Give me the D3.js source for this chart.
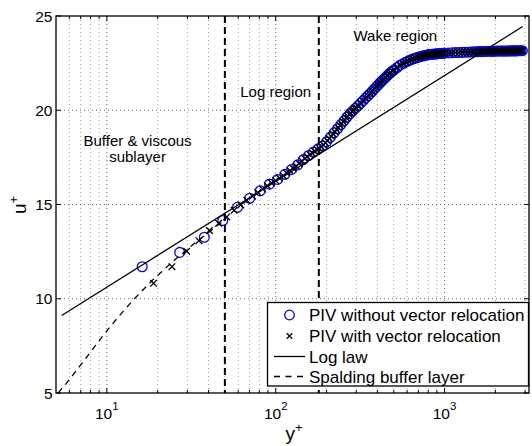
<!DOCTYPE html>
<html><head><meta charset="utf-8">
<script src="https://cdn.jsdelivr.net/npm/d3@7"></script>
<style>
body{margin:0;background:#fff}
svg{display:block}
text{font-family:"Liberation Sans",Arial,Helvetica,sans-serif;fill:#000}
</style>
</head><body>
<svg id="chart" width="532" height="446"></svg>
<script>
// ---------------- data ----------------
const xDomain = [5, 3162];
const yDomain = [5, 25];
const xMajorTicks = [10, 100, 1000];
const xMajorExponents = ["1", "2", "3"];
const xMinorTicks = [6, 7, 8, 9, 20, 30, 40, 50, 60, 70, 80, 90, 200, 300, 400, 500, 600, 700, 800, 900, 2000, 3000];
const yTicks = [5, 10, 15, 20, 25];
const yGridTicks = [10, 15, 20];
const regionBounds = [50, 180];
const regionLabels = [
  {lines: ["Buffer & viscous", "sublayer"], yPlus: 15.2, u: 18.08},
  {lines: ["Log region"], yPlus: 100, u: 20.7},
  {lines: ["Wake region"], yPlus: 511, u: 23.67}
];

// PIV without vector relocation (circles)
const pivYPlus = [16.2, 27, 37.8, 48.6, 59.4, 70.2, 81, 91.8, 102.6, 113.4, 124.2, 135, 145.8, 156.6, 167.4, 178.2, 189, 199.8, 210.6, 221.4,
  232.2, 243, 253.8, 264.6, 275.4, 286.2, 297, 307.8, 318.6, 329.4, 340.2, 351, 361.8, 372.6, 383.4, 394.2, 405, 415.8, 426.6, 437.4,
  448.2, 459, 469.8, 480.6, 491.4, 502.2,
  523.8, 545.4, 567, 588.6, 610.2, 631.8, 653.4, 675, 696.6, 718.2, 739.8, 761.4, 783, 804.6, 826.2, 847.8, 869.4, 891, 912.6, 934.2,
  955.8, 977.4, 999,
  1053, 1107, 1161, 1215, 1269, 1323, 1377, 1431, 1485, 1539, 1593, 1647, 1701, 1755, 1809, 1863, 1917, 1971, 2025, 2079, 2133,
  2187, 2241, 2295, 2349, 2403, 2457, 2511, 2565, 2619, 2673, 2727, 2781, 2835, 2889];
const pivU = [11.70, 12.46, 13.26, 14.15, 14.85, 15.33, 15.73, 16.08, 16.33, 16.60, 16.86, 17.10, 17.38, 17.60, 17.78, 17.95, 18.10, 18.32, 18.56, 18.80,
  19.02, 19.24, 19.44, 19.64, 19.82, 19.97, 20.11, 20.24, 20.38, 20.51, 20.64, 20.76, 20.88, 21.00, 21.12, 21.24, 21.35, 21.46, 21.56, 21.65,
  21.75, 21.84, 21.93, 22.01, 22.08, 22.14,
  22.27, 22.39, 22.47, 22.55, 22.62, 22.68, 22.73, 22.77, 22.81, 22.85, 22.88, 22.90, 22.93, 22.95, 22.96, 22.97, 22.98, 22.99, 23.00, 23.01,
  23.01, 23.02, 23.03,
  23.04, 23.05, 23.06, 23.06, 23.07, 23.08, 23.08, 23.09, 23.10, 23.10, 23.11, 23.11, 23.12, 23.12, 23.13, 23.13, 23.13, 23.13, 23.14, 23.14,
  23.14, 23.14, 23.14, 23.14, 23.14, 23.14, 23.15, 23.15, 23.15, 23.15, 23.15, 23.16, 23.16, 23.16, 23.16];

// PIV with vector relocation (crosses), near-wall part at finer spacing
const relocNearYPlus = [18.9, 24.3, 29.7, 35.1, 40.5, 45.9, 51.3, 56.7, 62.1, 67.5, 72.9, 78.3, 83.7, 89.1, 94.5, 99.9, 105.3, 110.7, 116.1, 121.5,
  126.9, 132.3, 137.7, 143.1, 148.5, 153.9, 159.3, 164.7, 170.1, 175.5, 180.9, 186.3, 191.7, 197.1, 202.5, 207.9, 213.3, 218.7, 224.1, 229.5,
  234.9, 240.3, 245.7, 251.1, 256.5, 261.9, 267.3, 272.7, 278.1, 283.5, 288.9, 294.3, 299.7];
const relocNearU = [10.82, 11.70, 12.52, 13.08, 13.62, 14.00, 14.34, 14.69, 14.98, 15.22, 15.44, 15.64, 15.82, 16.00, 16.14, 16.27, 16.40, 16.53, 16.67, 16.80,
  16.92, 17.04, 17.17, 17.31, 17.44, 17.54, 17.65, 17.73, 17.82, 17.91, 17.99, 18.06, 18.16, 18.27, 18.38, 18.50, 18.62, 18.74, 18.86, 18.97,
  19.08, 19.19, 19.29, 19.39, 19.49, 19.59, 19.69, 19.78, 19.86, 19.93, 20.01, 20.08, 20.14];

const logLawYPlus = [5.4, 2900];
const logLawU = [9.11, 24.44];

const spaldingYPlus = [5.15, 5.74, 6.35, 7.02, 7.74, 8.53, 9.42, 10.43, 11.60, 14.55, 18.72, 24.76, 33.68, 46.99, 49.5];
const spaldingU = [5, 5.5, 6, 6.5, 7, 7.5, 8, 8.5, 9, 10, 11, 12, 13, 14, 14.15];

const legendLabels = ["PIV without vector relocation", "PIV with vector relocation", "Log law", "Spalding buffer layer"];

// ---------------- chart ----------------
const L = 56, R = 529, T = 16, B = 393;
const svg = d3.select("#chart");
const x = d3.scaleLog().domain(xDomain).range([L, R]);
const y = d3.scaleLinear().domain(yDomain).range([B, T]);

svg.append("defs").append("clipPath").attr("id", "clip")
  .append("rect").attr("x", L).attr("y", T).attr("width", R - L).attr("height", B - T);

// grid
const grid = svg.append("g");
grid.selectAll(".vminor").data(xMinorTicks).join("line")
  .attr("x1", d => x(d)).attr("x2", d => x(d)).attr("y1", T).attr("y2", B)
  .attr("stroke", "#a0a0a0").attr("stroke-width", 1).attr("stroke-dasharray", "1,3");
grid.selectAll(".vmajor").data(xMajorTicks).join("line")
  .attr("x1", d => x(d)).attr("x2", d => x(d)).attr("y1", T).attr("y2", B)
  .attr("stroke", "#666").attr("stroke-width", 1).attr("stroke-dasharray", "1,3");
grid.selectAll(".hmajor").data(yGridTicks).join("line")
  .attr("x1", L).attr("x2", R).attr("y1", d => y(d)).attr("y2", d => y(d))
  .attr("stroke", "#666").attr("stroke-width", 1).attr("stroke-dasharray", "1,3");

const plot = svg.append("g").attr("clip-path", "url(#clip)");

// circles
plot.selectAll(".piv").data(pivYPlus.map((v, i) => [v, pivU[i]])).join("circle")
  .attr("cx", d => x(d[0])).attr("cy", d => y(d[1])).attr("r", 4.9)
  .attr("fill", "none").attr("stroke", "#0000ff").attr("stroke-width", 1.3);

// crosses
const relocTail = pivYPlus.map((v, i) => [v, pivU[i]]).filter(d => d[0] > 300);
const relocData = relocNearYPlus.map((v, i) => [v, relocNearU[i]]).concat(relocTail);
const crossPath = "M-3.3,-3.3L3.3,3.3M-3.3,3.3L3.3,-3.3";
plot.selectAll(".reloc").data(relocData).join("path")
  .attr("transform", d => `translate(${x(d[0])},${y(d[1])})`)
  .attr("d", crossPath).attr("stroke", "#000").attr("stroke-width", 1.3).attr("fill", "none");

// log law
const line = d3.line().x(d => x(d[0])).y(d => y(d[1]));
plot.append("path").datum(logLawYPlus.map((v, i) => [v, logLawU[i]]))
  .attr("d", line).attr("fill", "none").attr("stroke", "#000").attr("stroke-width", 1.3);

// Spalding
plot.append("path").datum(spaldingYPlus.map((v, i) => [v, spaldingU[i]]))
  .attr("d", line).attr("fill", "none").attr("stroke", "#000").attr("stroke-width", 1.3)
  .attr("stroke-dasharray", "6,5");

// region boundaries
plot.selectAll(".bound").data(regionBounds).join("line")
  .attr("x1", d => x(d)).attr("x2", d => x(d)).attr("y1", T).attr("y2", B)
  .attr("stroke", "#000").attr("stroke-width", 2).attr("stroke-dasharray", "7,4");

// region text
regionLabels.forEach(r => {
  const t = svg.append("text").attr("text-anchor", "middle").attr("font-size", 15)
    .attr("x", x(r.yPlus)).attr("y", y(r.u));
  r.lines.forEach((s, i) => t.append("tspan").attr("x", x(r.yPlus)).attr("dy", i === 0 ? 0 : 16).text(s));
});

// axes box & ticks
const axes = svg.append("g");
function ticksX(vals, len) {
  axes.selectAll(null).data(vals).join("line")
    .attr("x1", d => x(d)).attr("x2", d => x(d)).attr("y1", B).attr("y2", B - len)
    .attr("stroke", "#000").attr("stroke-width", 1);
  axes.selectAll(null).data(vals).join("line")
    .attr("x1", d => x(d)).attr("x2", d => x(d)).attr("y1", T).attr("y2", T + len)
    .attr("stroke", "#000").attr("stroke-width", 1);
}
ticksX(xMajorTicks, 5);
ticksX(xMinorTicks, 3);
axes.selectAll(null).data(yTicks).join("line")
  .attr("x1", L).attr("x2", L + 5).attr("y1", d => y(d)).attr("y2", d => y(d)).attr("stroke", "#000");
axes.selectAll(null).data(yTicks).join("line")
  .attr("x1", R).attr("x2", R - 5).attr("y1", d => y(d)).attr("y2", d => y(d)).attr("stroke", "#000");
axes.append("rect").attr("x", L).attr("y", T).attr("width", R - L).attr("height", B - T)
  .attr("fill", "none").attr("stroke", "#000").attr("stroke-width", 1.3);

// tick labels
xMajorTicks.forEach((v, i) => {
  const t = axes.append("text").attr("text-anchor", "middle").attr("x", x(v)).attr("y", 418.5).attr("font-size", 15.5);
  t.append("tspan").text("10");
  t.append("tspan").attr("dy", -9).attr("font-size", 11.5).text(xMajorExponents[i]);
});
axes.selectAll(null).data(yTicks).join("text")
  .attr("text-anchor", "end").attr("x", L - 3.5).attr("y", d => y(d) + 5.5)
  .attr("font-size", 15.5).text(d => d);

// axis labels
const xl = svg.append("text").attr("text-anchor", "middle").attr("x", 294).attr("y", 439.5).attr("font-size", 19);
xl.append("tspan").text("y");
xl.append("tspan").attr("dy", -8).attr("font-size", 13).text("+");
const yl = svg.append("text").attr("text-anchor", "middle").attr("transform", "translate(26,205) rotate(-90)").attr("font-size", 19);
yl.append("tspan").text("u");
yl.append("tspan").attr("dy", -8).attr("font-size", 13).text("+");

// legend
const lg = svg.append("g");
lg.append("rect").attr("x", 267.5).attr("y", 302.5).attr("width", 261).attr("height", 83.5)
  .attr("fill", "#fff").attr("stroke", "#000").attr("stroke-width", 1.3);
const rows = [315, 336, 356.5, 376.5];
lg.append("circle").attr("cx", 289.5).attr("cy", rows[0]).attr("r", 4.8)
  .attr("fill", "none").attr("stroke", "#0000ff").attr("stroke-width", 1.3);
lg.append("path").attr("transform", `translate(289.5,${rows[1]})`).attr("d", "M-2.8,-2.8L2.8,2.8M-2.8,2.8L2.8,-2.8")
  .attr("stroke", "#000").attr("stroke-width", 1.3);
lg.append("line").attr("x1", 274).attr("x2", 305).attr("y1", rows[2]).attr("y2", rows[2])
  .attr("stroke", "#000").attr("stroke-width", 1.3);
lg.append("line").attr("x1", 274).attr("x2", 305).attr("y1", rows[3]).attr("y2", rows[3])
  .attr("stroke", "#000").attr("stroke-width", 1.3).attr("stroke-dasharray", "6,5.5");
lg.selectAll(null).data(legendLabels).join("text")
  .attr("x", 309).attr("y", (d, i) => rows[i] + 6).attr("font-size", 17).text(d => d);
</script>
</body></html>
